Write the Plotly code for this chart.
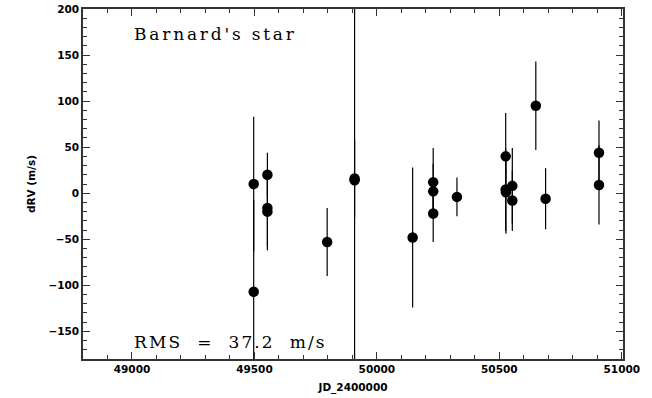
import plotly.graph_objects as go

# Barnard's star radial velocity residuals
jd = [49497, 49497, 49553, 49553, 49553, 49797, 49909, 49909, 50146, 50230,
      50230, 50230, 50327, 50526, 50526, 50527, 50553, 50553, 50649, 50689,
      50907, 50907]
drv = [10, -107, 20, -16, -20, -53, 16, 14, -48, 12,
       2, -22, -4, 40, 4, 1, 8, -8, 95, -6,
       44, 9]
err = [73, 100, 24, 42, 42, 37, 42, 260, 76, 37,
       30, 31, 21, 47, 45, 45, 41, 33, 48, 33,
       35, 43]

star_name = "Barnard's star"
rms_text = "RMS  =  37.2  m/s"

axis_font = dict(family="DejaVu Sans, sans-serif", size=10.5, color="black", weight="bold")
label_font = dict(family="DejaVu Serif, serif", size=17, color="black")

fig = go.Figure()
fig.add_trace(go.Scatter(
    x=jd, y=drv, mode="markers",
    marker=dict(color="black", size=10.5),
    error_y=dict(type="data", array=err, visible=True, color="black",
                 thickness=1.2, width=0),
    showlegend=False,
))

fig.add_annotation(x=49000, y=173, xref="x", yref="y",
                   text=f"<span style='letter-spacing:2.8px'>{star_name}</span>",
                   showarrow=False, xanchor="left", yanchor="middle", font=label_font)
fig.add_annotation(x=49000, y=-162, xref="x", yref="y",
                   text=f"<span style='letter-spacing:2.1px'>{rms_text}</span>",
                   showarrow=False, xanchor="left", yanchor="middle", font=label_font)

common = dict(showline=True, linecolor="#333", linewidth=1.5, mirror="allticks",
              ticks="inside", tickcolor="#333", showgrid=False, zeroline=False,
              tickfont=axis_font, automargin=False)

fig.update_xaxes(range=[48800, 51005], tick0=49000, dtick=500, ticklen=7, tickformat="d",
                 minor=dict(dtick=100, ticks="inside", ticklen=4, tickcolor="#333"),
                 title=dict(text="JD_2400000", font=axis_font, standoff=9),
                 **common)
fig.update_yaxes(range=[-180, 200], tick0=0, dtick=50, ticklen=7,
                 minor=dict(dtick=10, ticks="inside", ticklen=4, tickcolor="#333"),
                 title=dict(text="dRV (m/s)", font=axis_font, standoff=11),
                 **common)

fig.update_layout(width=652, height=398, plot_bgcolor="white", paper_bgcolor="white",
                  margin=dict(l=83, r=29, t=9, b=39))

# page body has a default 8px margin; drop it so the figure sits at the window origin
fig.write_html("out.html", config={"displayModeBar": False},
               post_script="document.body.style.margin='0';")
